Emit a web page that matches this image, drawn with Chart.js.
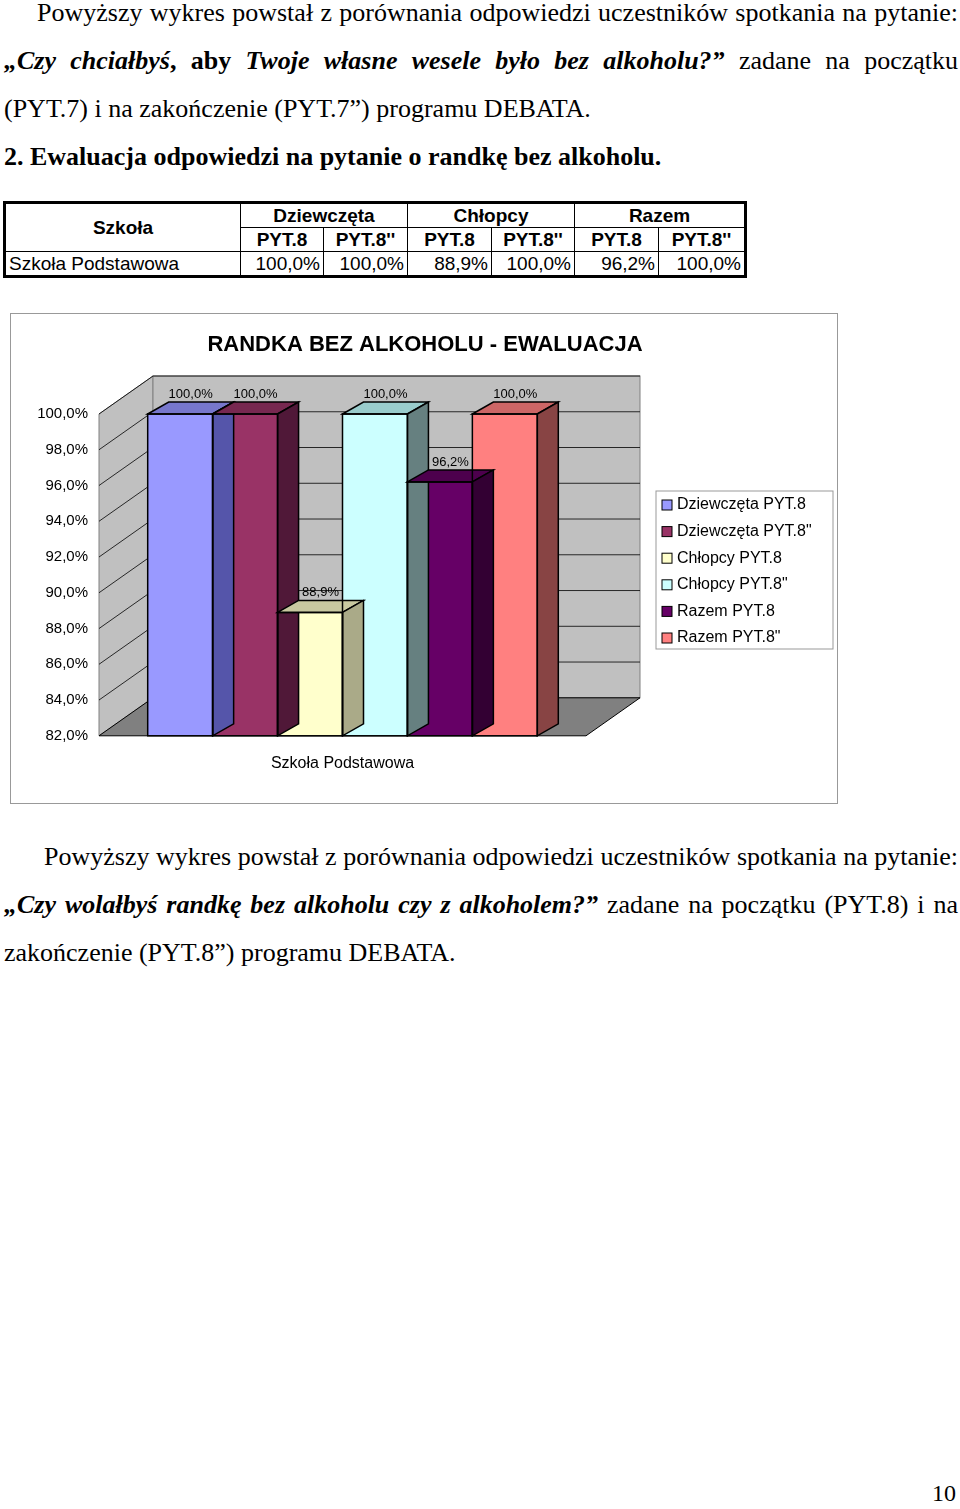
<!DOCTYPE html>
<html><head><meta charset="utf-8">
<script src="https://cdn.jsdelivr.net/npm/chart.js@4"></script>
<style>
body{margin:0;width:960px;height:1509px;position:relative;background:#fff;font-family:"Liberation Serif",serif;}
.p{position:absolute;left:4px;width:954px;font-size:26px;line-height:48px;text-align:justify;text-align-last:left;margin:0;}
table{position:absolute;left:3px;top:201px;border-collapse:collapse;font-family:"Liberation Sans",Arial,sans-serif;font-size:19px;border:3px solid #000;}
td{border:1.5px solid #000;padding:0 3px;height:23px;line-height:22px;}
.h{font-weight:bold;text-align:center;}
.n{text-align:right;}
#box{position:absolute;left:10px;top:313px;width:826px;height:489px;border:1px solid #999;}
</style></head><body>
<p class="p" style="top:-11px;text-indent:33px">Powyższy wykres powstał z porównania odpowiedzi uczestników spotkania na pytanie: <b><i>„Czy chciałbyś</i>, aby <i>Twoje własne wesele było bez alkoholu?”</i></b> zadane na początku (PYT.7) i na zakończenie (PYT.7”) programu DEBATA.</p>
<p class="p" style="top:133px;text-indent:0"><b>2. Ewaluacja odpowiedzi na pytanie o randkę bez alkoholu.</b></p>
<table>
<tr><td rowspan="2" class="h" style="width:228px">Szkoła</td><td colspan="2" class="h">Dziewczęta</td><td colspan="2" class="h">Chłopcy</td><td colspan="2" class="h">Razem</td></tr>
<tr><td class="h" style="width:76px">PYT.8</td><td class="h" style="width:77px">PYT.8''</td><td class="h" style="width:77px">PYT.8</td><td class="h" style="width:76px">PYT.8''</td><td class="h" style="width:77px">PYT.8</td><td class="h" style="width:79px">PYT.8''</td></tr>
<tr><td>Szkoła Podstawowa</td><td class="n">100,0%</td><td class="n">100,0%</td><td class="n">88,9%</td><td class="n">100,0%</td><td class="n">96,2%</td><td class="n">100,0%</td></tr>
</table>
<div id="box"><canvas id="chart" width="826" height="489"></canvas></div>
<p class="p" style="top:833px;text-indent:40px">Powyższy wykres powstał z porównania odpowiedzi uczestników spotkania na pytanie: <b><i>„Czy wolałbyś randkę bez alkoholu czy z alkoholem?”</i></b> zadane na początku (PYT.8) i na zakończenie (PYT.8”) programu DEBATA.</p>
<div style="position:absolute;left:932px;top:1480px;font-size:24px">10</div>
<script>
const categories = ['Szkoła Podstawowa'];
const seriesNames = ['Dziewczęta PYT.8', 'Dziewczęta PYT.8"', 'Chłopcy PYT.8', 'Chłopcy PYT.8"', 'Razem PYT.8', 'Razem PYT.8"'];
const seriesValues = [100.0, 100.0, 88.9, 100.0, 96.2, 100.0];
const colors = ['#9999ff', '#993366', '#ffffcc', '#ccffff', '#660066', '#ff8080'];
const topColors = ['#7777cc', '#772850', '#c8c8a0', '#99cccc', '#4d004d', '#cc6666'];
const sideColors = ['#5555aa', '#501838', '#aaaa88', '#668080', '#330033', '#884444'];
const tickLabels = ['82,0%', '84,0%', '86,0%', '88,0%', '90,0%', '92,0%', '94,0%', '96,0%', '98,0%', '100,0%'];
const title = 'RANDKA BEZ ALKOHOLU - EWALUACJA';

const WX = 54, WY = 38, BX = 21, BY = 12;

const fake3d = {
  id: 'fake3d',
  beforeDatasetsDraw(chart) {
    const c = chart.ctx, a = chart.chartArea, y = chart.scales.y;
    c.save();
    c.fillStyle = '#c0c0c0'; c.strokeStyle = '#808080'; c.lineWidth = 1;
    c.beginPath(); c.moveTo(a.left, a.bottom); c.lineTo(a.left, a.top); c.lineTo(a.left + WX, a.top - WY); c.lineTo(a.left + WX, a.bottom - WY); c.closePath(); c.fill(); c.stroke();
    c.fillRect(a.left + WX, a.top - WY, a.width, a.height); c.strokeRect(a.left + WX, a.top - WY, a.width, a.height);
    c.fillStyle = '#808080';
    c.beginPath(); c.moveTo(a.left, a.bottom); c.lineTo(a.right, a.bottom); c.lineTo(a.right + WX, a.bottom - WY); c.lineTo(a.left + WX, a.bottom - WY); c.closePath(); c.fill();
    c.strokeStyle = '#000';
    c.stroke();
    c.strokeStyle = '#000'; c.lineWidth = 0.8;
    y.ticks.forEach(t => {
      const py = y.getPixelForValue(t.value);
      if (t.value === 82) return;
      c.beginPath(); c.moveTo(a.left, py); c.lineTo(a.left + WX, py - WY); c.lineTo(a.right + WX, py - WY); c.stroke();
    });
    c.restore();
  },
  afterDatasetsDraw(chart) {
    const c = chart.ctx, a = chart.chartArea;
    c.save();
    c.strokeStyle = '#000'; c.lineWidth = 1.5;
    chart.data.datasets.forEach((ds, i) => {
      const b = chart.getDatasetMeta(i).data[0];
      const l = b.x - b.width / 2, r = b.x + b.width / 2, t = b.y, bt = a.bottom;
      c.fillStyle = topColors[i];
      c.beginPath(); c.moveTo(l, t); c.lineTo(l + BX, t - BY); c.lineTo(r + BX, t - BY); c.lineTo(r, t); c.closePath(); c.fill(); c.stroke();
      c.fillStyle = sideColors[i];
      c.beginPath(); c.moveTo(r, t); c.lineTo(r + BX, t - BY); c.lineTo(r + BX, bt - BY); c.lineTo(r, bt); c.closePath(); c.fill(); c.stroke();
      c.strokeRect(l, t, b.width, bt - t);
      c.fillStyle = '#000'; c.font = '13px "Liberation Sans", Arial'; c.textAlign = 'center';
      c.fillText(ds.data[0].toFixed(1).replace('.', ',') + '%', b.x + BX / 2, t - BY - 4);
    });
    c.font = 'bold 22px "Liberation Sans", Arial'; c.textAlign = 'center';
    c.fillText(title, 414, 37);
    const lx = 645, ly = 177;
    c.fillStyle = '#fff'; c.strokeStyle = '#999'; c.lineWidth = 1;
    c.fillRect(lx, ly, 177, 158); c.strokeRect(lx, ly, 177, 158);
    c.font = '16px "Liberation Sans", Arial'; c.textAlign = 'left'; c.textBaseline = 'middle';
    seriesNames.forEach((n, i) => {
      const yy = ly + 14 + i * 26.6;
      c.fillStyle = colors[i]; c.fillRect(lx + 6, yy - 5, 10, 10);
      c.strokeStyle = '#000'; c.strokeRect(lx + 6, yy - 5, 10, 10);
      c.fillStyle = '#000'; c.fillText(n, lx + 21, yy);
    });
    c.restore();
  }
};

new Chart(document.getElementById('chart').getContext('2d'), {
  type: 'bar',
  data: {
    labels: categories,
    datasets: seriesNames.map((n, i) => ({ label: n, data: [seriesValues[i]], backgroundColor: colors[i], borderWidth: 0, base: 82 }))
  },
  options: {
    responsive: false, animation: false,
    layout: { padding: { left: 10, right: 251, top: 100, bottom: 20 } },
    datasets: { bar: { categoryPercentage: 0.8, barPercentage: 1 } },
    plugins: { legend: { display: false }, title: { display: false }, tooltip: { enabled: false } },
    scales: {
      x: { grid: { display: false }, border: { display: false },
        ticks: { color: '#000', font: { size: 16, family: '"Liberation Sans", Arial' }, padding: 10 } },
      y: { min: 82, max: 100, grid: { display: false }, border: { display: false },
        afterFit(s) { s.width = 78; },
        ticks: { stepSize: 2, color: '#000', font: { size: 15, family: '"Liberation Sans", Arial' },
          callback: (v, i) => tickLabels[i] } }
    }
  },
  plugins: [fake3d]
});
</script>
</body></html>
